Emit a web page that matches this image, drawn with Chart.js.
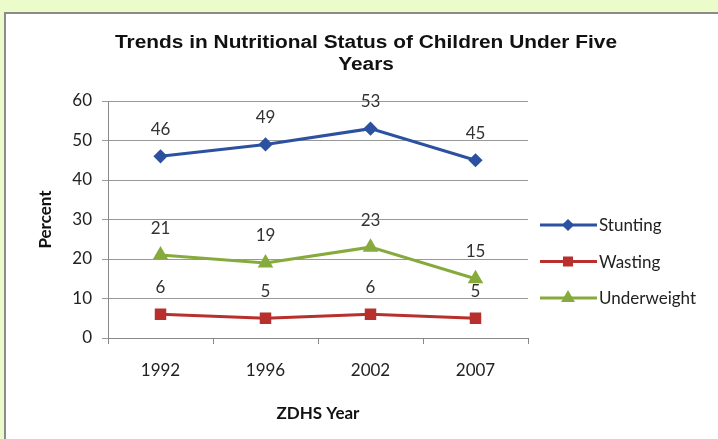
<!DOCTYPE html>
<html>
<head>
<meta charset="utf-8">
<script src="https://cdn.jsdelivr.net/npm/chart.js@4.4.1/dist/chart.umd.min.js"></script>
<style>
  html, body { margin: 0; padding: 0; }
  body { width: 718px; height: 439px; background: #ebfbc9; position: relative; overflow: hidden; }
  #panel {
    position: absolute; left: 4px; top: 12px; width: 714px; height: 427px;
    background: #ffffff; border-left: 2px solid #8a8a8a; border-top: 2px solid #8a8a8a;
  }
  #chart { display: block; }
</style>
</head>
<body>
<div id="panel"><canvas id="chart" width="712" height="425"></canvas></div>
<script>
const years = ['1992', '1996', '2002', '2007'];
const stunting = [46, 49, 53, 45];
const wasting = [6, 5, 6, 5];
const underweight = [21, 19, 23, 15];
const yTicks = [0, 10, 20, 30, 40, 50, 60];
const titleLines = ['Trends in Nutritional Status of Children Under Five', 'Years'];

const bodyFont = 'Lato, "Open Sans", sans-serif';
const tickFont = { family: bodyFont, size: 17 };

// chart title, stretched a bit wide like the original
const wideTitle = {
    id: 'wideTitle',
    afterDraw(chart) {
        const ctx = chart.ctx;
        ctx.save();
        ctx.font = 'bold 18px "Liberation Sans", Arial, sans-serif';
        ctx.fillStyle = '#111111';
        ctx.textAlign = 'center';
        ctx.textBaseline = 'middle';
        const w = ctx.measureText(titleLines[0]).width;
        const sx = 502 / w;
        ctx.translate(360, 0);
        ctx.scale(sx, 1);
        titleLines.forEach(function(line, i) {
            ctx.fillText(line, 0, 29 + i * 22);
        });
        ctx.restore();
    }
};

// value labels above each point
const pointLabels = {
    id: 'pointLabels',
    afterDatasetsDraw(chart) {
        const ctx = chart.ctx;
        ctx.save();
        ctx.font = '17px ' + bodyFont;
        ctx.fillStyle = '#333333';
        ctx.textAlign = 'center';
        ctx.textBaseline = 'middle';
        chart.data.datasets.forEach(function(ds, i) {
            chart.getDatasetMeta(i).data.forEach(function(pt, j) {
                ctx.fillText(ds.data[j], pt.x, pt.y - 27);
            });
        });
        ctx.restore();
    }
};

// legend on the right: line sample with marker in the middle
const sideLegend = {
    id: 'sideLegend',
    afterDraw(chart) {
        const ctx = chart.ctx;
        const area = chart.chartArea;
        const x0 = area.right + 12;
        ctx.save();
        chart.data.datasets.forEach(function(ds, i) {
            const y = area.top + 124 + i * 36.5;
            ctx.strokeStyle = ds.borderColor;
            ctx.lineWidth = 3;
            ctx.beginPath();
            ctx.moveTo(x0, y);
            ctx.lineTo(x0 + 57, y);
            ctx.stroke();
            Chart.helpers.drawPoint(ctx, {
                pointStyle: ds.pointStyle,
                radius: ds.pointRadius - 1,
                borderWidth: 1
            }, x0 + 28, y);
            ctx.fillStyle = ds.borderColor;
            ctx.fill();
            ctx.fillStyle = '#222222';
            ctx.font = '17px ' + bodyFont;
            ctx.textBaseline = 'middle';
            ctx.fillText(ds.label, x0 + 59, y + 1);
        });
        ctx.restore();
    }
};

new Chart(document.getElementById('chart'), {
    type: 'line',
    data: {
        labels: years,
        datasets: [
            {
                label: 'Stunting',
                data: stunting,
                borderColor: '#2c51a0',
                backgroundColor: '#2c51a0',
                pointStyle: 'rectRot',
                pointRadius: 5,
                borderWidth: 3
            },
            {
                label: 'Wasting',
                data: wasting,
                borderColor: '#b8302d',
                backgroundColor: '#b8302d',
                pointStyle: 'rect',
                pointRadius: 6,
                borderWidth: 3
            },
            {
                label: 'Underweight',
                data: underweight,
                borderColor: '#86ab3c',
                backgroundColor: '#86ab3c',
                pointStyle: 'triangle',
                pointRadius: 6,
                borderWidth: 3
            }
        ]
    },
    options: {
        responsive: false,
        animation: false,
        layout: { padding: { left: 0, right: 190, top: 87, bottom: 0 } },
        plugins: {
            legend: { display: false },
            tooltip: { enabled: false },
            title: { display: false }
        },
        scales: {
            x: {
                offset: true,
                grid: { offset: true, drawOnChartArea: false, tickLength: 6, color: '#888888' },
                border: { color: '#888888' },
                ticks: { color: '#222222', font: tickFont, padding: 16 },
                title: {
                    display: true,
                    text: 'ZDHS Year',
                    color: '#111111',
                    font: { family: bodyFont, size: 17, weight: 'bold' },
                    padding: { top: 0, bottom: 15 }
                },
                afterFit: function(scale) { scale.height = 101; }
            },
            y: {
                min: 0,
                max: 60,
                afterBuildTicks: function(scale) {
                    scale.ticks = yTicks.map(function(v) { return { value: v }; });
                },
                grid: { color: '#999999', tickLength: 6 },
                border: { color: '#888888' },
                ticks: { color: '#222222', font: tickFont, padding: 10 },
                title: {
                    display: true,
                    text: 'Percent',
                    color: '#111111',
                    font: { family: bodyFont, size: 17, weight: 'bold' },
                    padding: { top: 29 }
                },
                afterFit: function(scale) { scale.width = 102; }
            }
        }
    },
    plugins: [pointLabels, sideLegend, wideTitle]
});
</script>
</body>
</html>
